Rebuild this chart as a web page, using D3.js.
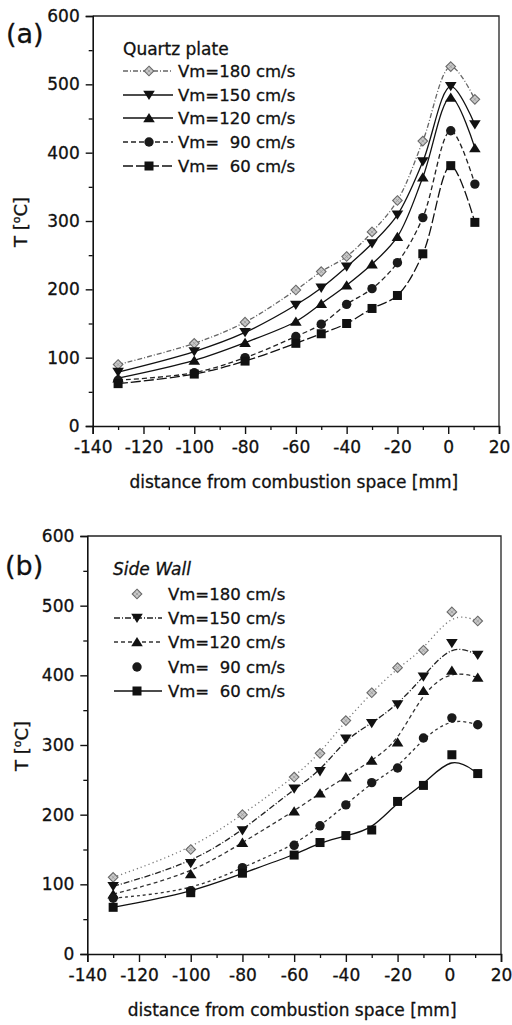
<!DOCTYPE html>
<html>
<head>
<meta charset="utf-8">
<script src="https://cdn.jsdelivr.net/npm/d3@7"></script>
<style>
  html, body { margin: 0; padding: 0; background: #fff; }
  svg { display: block; }
  text { font-family: "DejaVu Sans", "Liberation Sans", Arial, sans-serif; fill: #111; stroke: #111; stroke-width: 0.3px; }
</style>
</head>
<body>
<svg id="chart" width="512" height="1025"></svg>
<script>
// ---------- data ----------
const xA = [-130, -100, -80, -60, -50, -40, -30, -20, -10, 1, 10.5];
const xB = [-130, -100, -80, -60, -50, -40, -30, -20, -10, 1, 11];

const seriesLabels = ["Vm=180 cm/s", "Vm=150 cm/s", "Vm=120 cm/s", "Vm=  90 cm/s", "Vm=  60 cm/s"];

// panel (a) Quartz plate
const a180 = [90, 121, 152, 199, 226, 248, 284, 330, 417, 526, 478];
const a150 = [79, 109, 137, 177, 202, 233, 267, 309, 387, 497, 441];
const a120 = [70, 96, 122, 153, 179, 206, 237, 277, 364, 481, 407];
const a90  = [67, 78, 100, 131, 149, 178, 201, 239, 305, 432, 354];
const a60  = [62, 76, 95, 121, 135, 150, 172, 191, 252, 381, 298];

// panel (b) Side Wall
const b180 = [110, 150, 200, 254, 288, 335, 375, 411, 436, 491, 478];
const b150 = [97, 130, 177, 237, 262, 309, 331, 358, 398, 446, 429];
const b120 = [86, 115, 160, 205, 231, 254, 278, 304, 378, 407, 397];
const b90  = [80, 91, 124, 156, 184, 214, 246, 267, 310, 339, 329];
const b60  = [67, 88, 116, 142, 160, 170, 178, 219, 242, 286, 259];

const xTicks = [-140, -120, -100, -80, -60, -40, -20, 0, 20];
const xMinor = [-130, -110, -90, -70, -50, -30, -10, 10];
const yTicks = [0, 100, 200, 300, 400, 500, 600];
const yMinor = [50, 150, 250, 350, 450, 550];

const markers = ["diamond", "tdown", "tup", "circle", "square"];

// ---------- drawing ----------
const svg = d3.select("#chart");

const panels = [
  {
    tag: "(a)", title: "Quartz plate", italic: false,
    x: xA, series: [a180, a150, a120, a90, a60],
    box: {l: 92.7, r: 499, t: 16, b: 426},
    tagPos: [6, 43], ytitle: [21, 222],
    legend: {tx: 123, ty: 55, rows: [71, 95, 118, 142, 166], l0: 123, l1: 173, mx: 149, lx: 178},
    dashes: ["5,2,1,2", null, null, "5,3", "10,3"],
    strokes: ["#666", "#111", "#111", "#222", "#111"],
    legendLine: [true, true, true, true, true],
    curve: d3.curveCatmullRom.alpha(0.5),
    xtitleY: 488
  },
  {
    tag: "(b)", title: "Side Wall", italic: true,
    x: xB, series: [b180, b150, b120, b90, b60],
    box: {l: 87.3, r: 501, t: 536, b: 954},
    tagPos: [5, 575], ytitle: [22, 746],
    legend: {tx: 113, ty: 575, rows: [594, 618, 642, 667, 691], l0: 114, l1: 162, mx: 137, lx: 168},
    dashes: ["1.2,3", "6,2,1,2", "4,3", "3,3", null],
    strokes: ["#777", "#222", "#333", "#333", "#111"],
    legendLine: [false, true, true, false, true],
    curve: d3.curveBasis,
    xtitleY: 1016
  }
];

function drawMarker(g, type, cx, cy) {
  if (type === "diamond") {
    const s = 4.8;
    g.append("path")
      .attr("d", `M${cx},${cy - s}L${cx + s},${cy}L${cx},${cy + s}L${cx - s},${cy}Z`)
      .attr("fill", "#c8c8c8").attr("stroke", "#6a6a6a").attr("stroke-width", 1.1);
    g.append("path")
      .attr("d", `M${cx - 1.6},${cy - 1.6}L${cx + 1.6},${cy + 1.6}M${cx - 1.6},${cy + 1.6}L${cx + 1.6},${cy - 1.6}`)
      .attr("stroke", "#999").attr("stroke-width", 0.8);
  } else if (type === "tdown") {
    const s = 5.8;
    g.append("path").attr("d", `M${cx - s},${cy - s * 0.75}L${cx + s},${cy - s * 0.75}L${cx},${cy + s * 0.85}Z`).attr("fill", "#111");
  } else if (type === "tup") {
    const s = 5.8;
    g.append("path").attr("d", `M${cx - s},${cy + s * 0.75}L${cx + s},${cy + s * 0.75}L${cx},${cy - s * 0.85}Z`).attr("fill", "#111");
  } else if (type === "circle") {
    g.append("circle").attr("cx", cx).attr("cy", cy).attr("r", 4.7).attr("fill", "#1a1a1a");
  } else {
    g.append("rect").attr("x", cx - 4.5).attr("y", cy - 4.5).attr("width", 9).attr("height", 9).attr("fill", "#111");
  }
}

panels.forEach(p => {
  const x = d3.scaleLinear().domain([-140, 20]).range([p.box.l, p.box.r]);
  const y = d3.scaleLinear().domain([0, 600]).range([p.box.b, p.box.t]);
  const g = svg.append("g");

  // frame top and right
  g.append("path")
    .attr("d", `M${p.box.l},${p.box.t}H${p.box.r}V${p.box.b}`)
    .attr("fill", "none").attr("stroke", "#222").attr("stroke-width", 1.3);

  // axes
  const xAxis = d3.axisBottom(x).tickValues(xTicks).tickSize(8).tickPadding(7).tickFormat(d3.format("d"));
  const yAxis = d3.axisLeft(y).tickValues(yTicks).tickSize(7).tickPadding(6).tickFormat(d3.format("d"));
  const gx = g.append("g").attr("transform", `translate(0,${p.box.b})`).call(xAxis);
  const gy = g.append("g").attr("transform", `translate(${p.box.l},0)`).call(yAxis);
  [gx, gy].forEach(ax => {
    ax.select(".domain").attr("stroke", "#111").attr("stroke-width", 1.6);
    ax.selectAll(".tick line").attr("stroke", "#111").attr("stroke-width", 1.4);
    ax.selectAll(".tick text").style("font-size", "17px").attr("fill", "#111")
      .style("font-family", '"DejaVu Sans", sans-serif');
  });
  gx.selectAll(".tick text").text(d => d < 0 ? "-" + Math.abs(d) : d);
  // minor ticks
  g.append("g").attr("transform", `translate(0,${p.box.b})`)
    .call(d3.axisBottom(x).tickValues(xMinor).tickSize(4).tickFormat(""))
    .call(a => { a.select(".domain").remove(); a.selectAll("line").attr("stroke", "#111").attr("stroke-width", 1.3); });
  g.append("g").attr("transform", `translate(${p.box.l},0)`)
    .call(d3.axisLeft(y).tickValues(yMinor).tickSize(4).tickFormat(""))
    .call(a => { a.select(".domain").remove(); a.selectAll("line").attr("stroke", "#111").attr("stroke-width", 1.3); });

  // axis titles
  g.append("text").attr("x", (p.box.l + p.box.r) / 2 - 2).attr("y", p.xtitleY)
    .attr("text-anchor", "middle").style("font-size", "17px")
    .text("distance from combustion space [mm]");
  const yt = g.append("text")
    .attr("transform", `translate(${p.ytitle[0] + 6},${p.ytitle[1]}) rotate(-90)`)
    .attr("text-anchor", "middle").style("font-size", "18px");
  yt.append("tspan").text("T [");
  yt.append("tspan").text("o").style("font-size", "11px").attr("dy", -7);
  yt.append("tspan").text("C]").attr("dy", 7);

  // panel tag
  g.append("text").attr("x", p.tagPos[0]).attr("y", p.tagPos[1])
    .style("font-size", "27px").text(p.tag);

  // series
  p.series.forEach((vals, i) => {
    const pts = vals.map((v, k) => [x(p.x[k]), y(v)]);
    g.append("path")
      .attr("d", d3.line().curve(p.curve)(pts))
      .attr("fill", "none").attr("stroke", p.strokes[i]).attr("stroke-width", 1.3)
      .attr("stroke-dasharray", p.dashes[i]);
  });
  p.series.forEach((vals, i) => {
    vals.forEach((v, k) => drawMarker(g, markers[i], x(p.x[k]), y(v)));
  });

  // legend
  const L = p.legend;
  g.append("text").attr("x", L.tx).attr("y", L.ty)
    .style("font-size", "17px").style("font-style", p.italic ? "italic" : "normal")
    .text(p.title);
  seriesLabels.forEach((lab, i) => {
    const ry = L.rows[i];
    if (p.legendLine[i]) {
      g.append("line").attr("x1", L.l0).attr("x2", L.l1).attr("y1", ry).attr("y2", ry)
        .attr("stroke", p.strokes[i]).attr("stroke-width", 1.3)
        .attr("stroke-dasharray", p.dashes[i]);
    }
    drawMarker(g, markers[i], L.mx, ry);
    g.append("text").attr("x", L.lx).attr("y", ry + 6)
      .style("font-size", "16.5px").style("white-space", "pre")
      .attr("xml:space", "preserve").text(lab);
  });
});
</script>
</body>
</html>
